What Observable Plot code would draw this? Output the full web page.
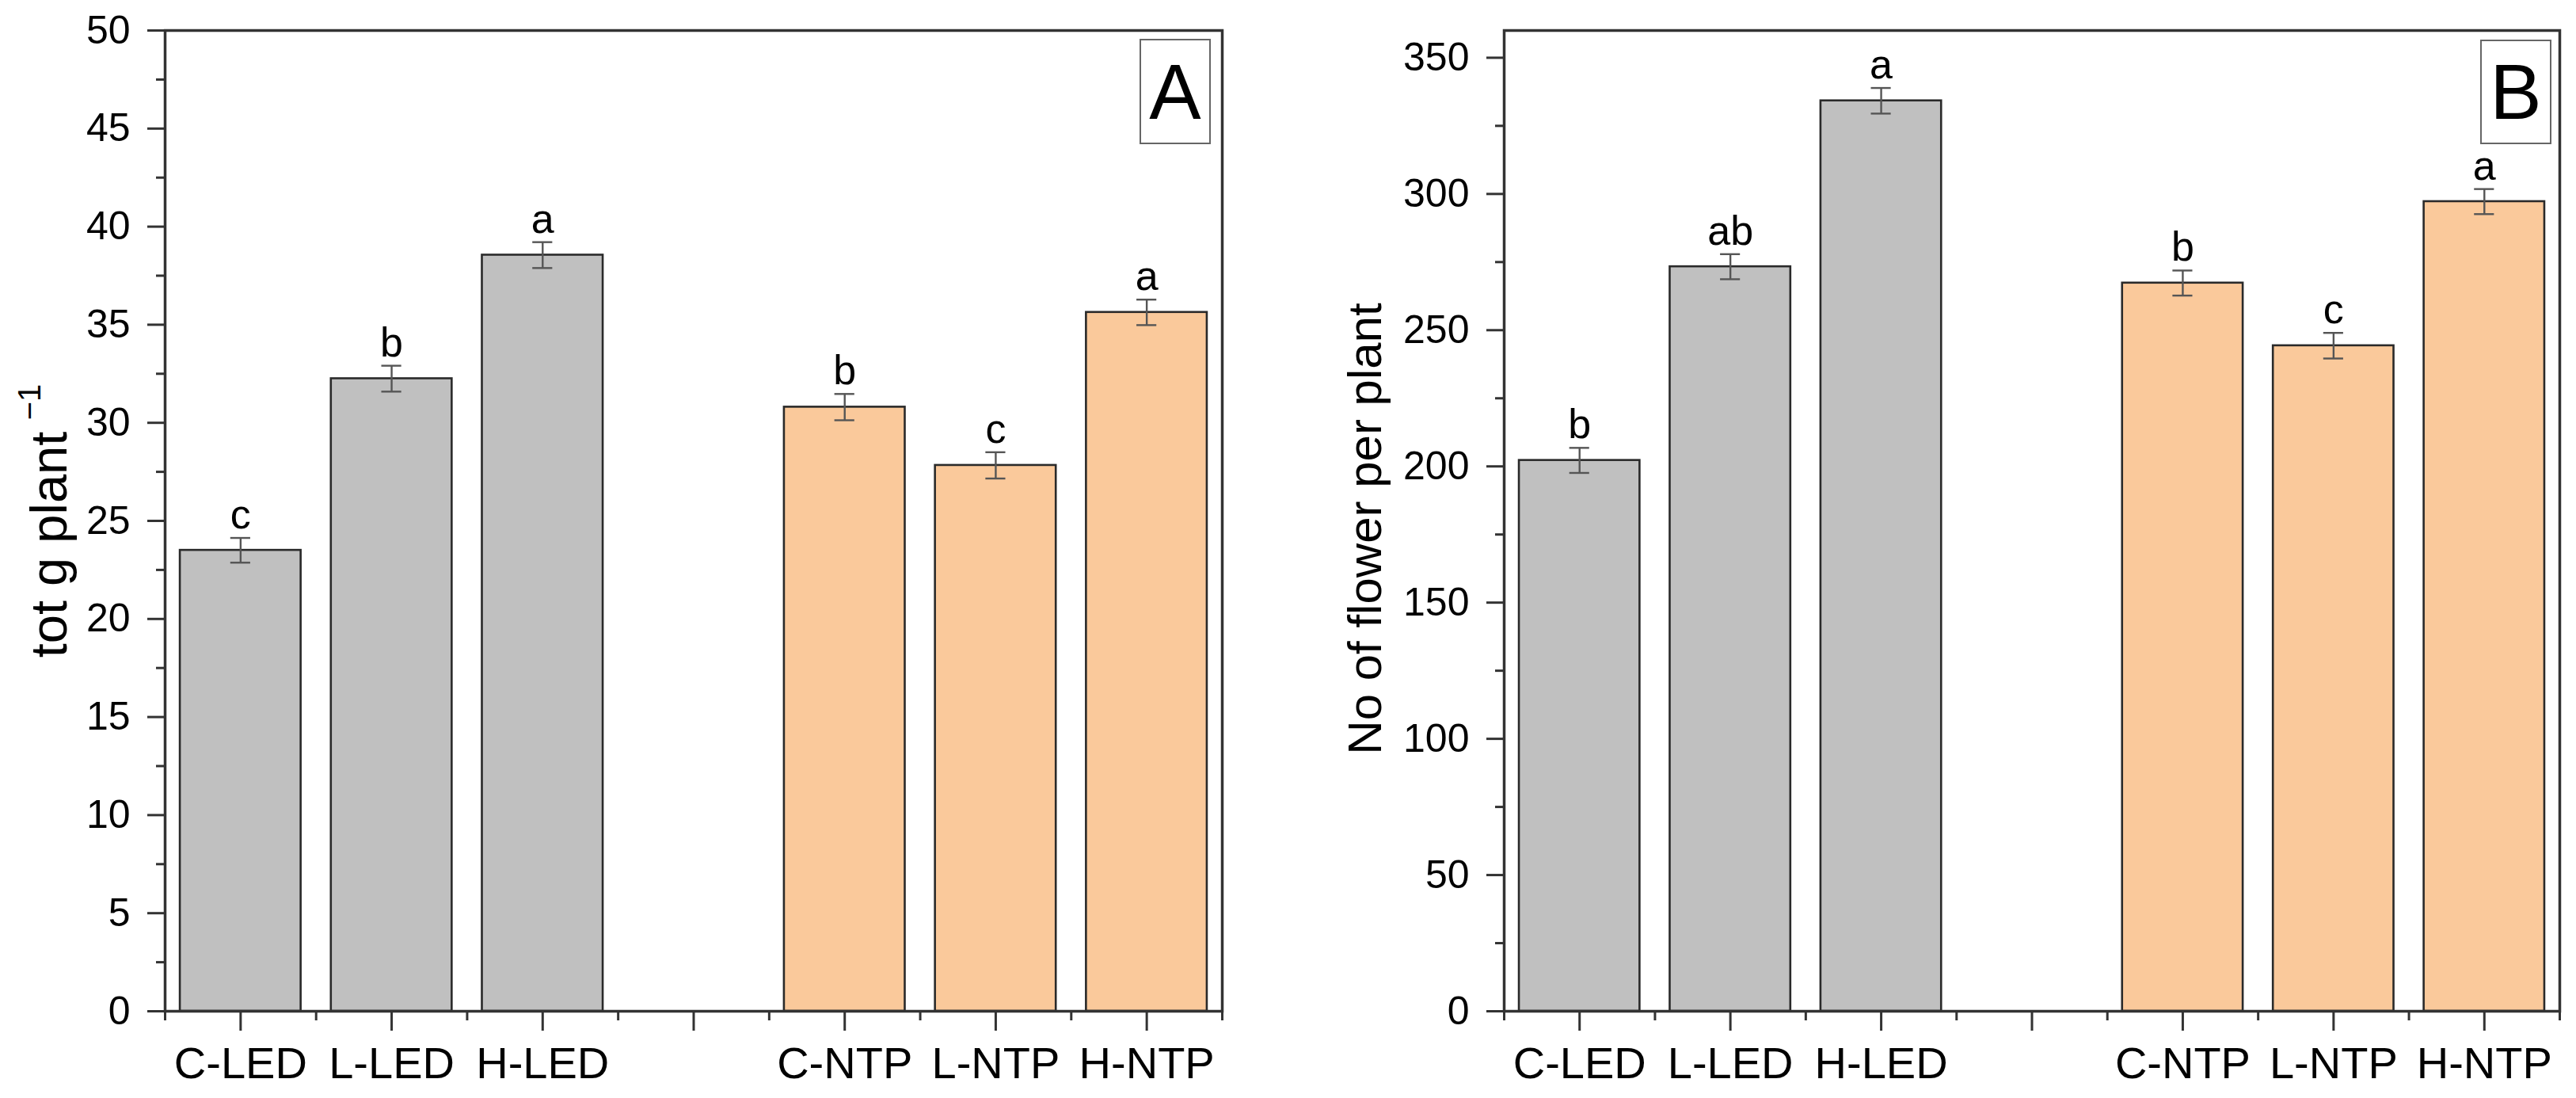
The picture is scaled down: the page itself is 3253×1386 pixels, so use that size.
<!DOCTYPE html>
<html>
<head>
<meta charset="utf-8">
<script src="https://cdn.jsdelivr.net/npm/d3@7"></script>
<script src="https://cdn.jsdelivr.net/npm/@observablehq/plot@0.6"></script>
<style>
  html, body { margin: 0; padding: 0; background: #fff; }
  #wrap { position: relative; width: 3253px; height: 1386px; display: flex; font-family: "Liberation Sans", Arial, sans-serif; }
  .tag { position: absolute; border: 2px solid #666; background: #fff; box-sizing: border-box;
         display: flex; align-items: center; justify-content: center; font-size: 98px; line-height: 1; color: #000; }
</style>
</head>
<body>
<div id="wrap"></div>
<script>
// ---- data ----
const categories = ["C-LED", "L-LED", "H-LED", "", "C-NTP", "L-NTP", "H-NTP"];
const groups     = ["LED", "LED", "LED", null, "NTP", "NTP", "NTP"];

const yieldMean    = [23.5, 32.25, 38.55, null, 30.8, 27.83, 35.63];
const yieldErr     = [0.63, 0.66, 0.66, null, 0.67, 0.67, 0.65];
const yieldLetters = ["c", "b", "a", null, "b", "c", "a"];

const flowerMean    = [202.2, 273.3, 334.2, null, 267.3, 244.3, 297.2];
const flowerErr     = [4.6, 4.6, 4.7, null, 4.6, 4.7, 4.6];
const flowerLetters = ["b", "ab", "a", null, "b", "c", "a"];

const yieldTicks      = [0, 5, 10, 15, 20, 25, 30, 35, 40, 45, 50];
const yieldMinorTicks = [2.5, 7.5, 12.5, 17.5, 22.5, 27.5, 32.5, 37.5, 42.5, 47.5];
const flowerTicks      = [0, 50, 100, 150, 200, 250, 300, 350];
const flowerMinorTicks = [25, 75, 125, 175, 225, 275, 325];

const groupColors = {LED: "#c0c0c0", NTP: "#fac99b"};

const FONT = "'Liberation Sans', Arial, sans-serif";
const slotPos = categories.map((_, i) => i + 1);
const slotEdges = d3.range(0, categories.length + 1).map(i => i + 0.5);

function rows(means, errs, letters) {
  return categories.map((c, i) => ({
    cat: c, pos: slotPos[i], group: groups[i], v: means[i], e: errs[i], letter: letters[i]
  })).filter(d => d.v != null);
}

function panel({data, yDomain, ticks, minorTicks, titleMarks, marginLeft, marginRight, width}) {
  const barHalf = 0.4, capHalf = 0.066;
  return Plot.plot({
    width, height: 1386,
    marginLeft, marginRight, marginTop: 38, marginBottom: 110,
    style: {fontFamily: FONT, color: "#000", background: "transparent", overflow: "visible"},
    x: {type: "linear", domain: [0.5, categories.length + 0.5]},
    y: {domain: yDomain},
    marks: [
      Plot.rectY(data, {
        x1: d => d.pos - barHalf, x2: d => d.pos + barHalf, y1: 0, y2: "v",
        fill: d => groupColors[d.group], stroke: "#2a2a2a", strokeWidth: 2.6
      }),
      Plot.ruleX(data, {x: "pos", y1: d => d.v - d.e, y2: d => d.v + d.e, stroke: "#555", strokeWidth: 2.4}),
      Plot.ruleY(data, {y: d => d.v + d.e, x1: d => d.pos - capHalf, x2: d => d.pos + capHalf, stroke: "#555", strokeWidth: 2.4}),
      Plot.ruleY(data, {y: d => d.v - d.e, x1: d => d.pos - capHalf, x2: d => d.pos + capHalf, stroke: "#555", strokeWidth: 2.4}),
      Plot.text(data, {x: "pos", y: d => d.v + d.e, text: "letter", dy: -12, lineAnchor: "bottom",
        fontSize: 52, fill: "#000"}),
      Plot.frame({stroke: "#333", strokeWidth: 3.5}),
      Plot.axisY({ticks, tickSize: 22, tickPadding: 22, fontSize: 50, stroke: "#333", strokeWidth: 3, label: null,
        tickFormat: d => String(d)}),
      Plot.axisY({ticks: minorTicks, tickSize: 11, stroke: "#333", strokeWidth: 3, label: null, tickFormat: () => ""}),
      Plot.axisX({ticks: slotPos, tickSize: 25, tickPadding: 20, fontSize: 56, stroke: "#333", strokeWidth: 3, label: null,
        tickFormat: d => categories[Math.round(d) - 1] ?? ""}),
      Plot.axisX({ticks: slotEdges, tickSize: 12, stroke: "#333", strokeWidth: 3, label: null, tickFormat: () => ""}),
      ...titleMarks
    ]
  });
}

const titleA = "tot g plant", titleASup = "\u22121";
const titleB = "No of flower per plant";

const wrap = document.getElementById("wrap");
const A = panel({
  data: rows(yieldMean, yieldErr, yieldLetters), yDomain: [0, 50], ticks: yieldTicks, minorTicks: yieldMinorTicks,
  titleMarks: [
    Plot.text([titleA], {frameAnchor: "left", textAnchor: "middle", rotate: -90, dx: -145, dy: 30, fontSize: 65, fill: "#000"}),
    Plot.text([titleASup], {frameAnchor: "left", textAnchor: "middle", rotate: -90, dx: -170, dy: -150, fontSize: 40, fill: "#000"})
  ],
  marginLeft: 208, marginRight: 83, width: 1626
});
const B = panel({
  data: rows(flowerMean, flowerErr, flowerLetters), yDomain: [0, 360], ticks: flowerTicks, minorTicks: flowerMinorTicks,
  titleMarks: [
    Plot.text([titleB], {frameAnchor: "left", textAnchor: "middle", rotate: -90, dx: -175, dy: 10, fontSize: 60, fill: "#000"})
  ],
  marginLeft: 273, marginRight: 21, width: 1627
});
wrap.appendChild(A);
wrap.appendChild(B);

function tag(letter, left, top, w, h) {
  const d = document.createElement("div");
  d.className = "tag";
  d.style.left = left + "px"; d.style.top = top + "px";
  d.style.width = w + "px"; d.style.height = h + "px";
  d.textContent = letter;
  wrap.appendChild(d);
}
tag("A", 1439, 49, 90, 133);
tag("B", 3132, 50, 90, 132);
</script>
</body>
</html>
